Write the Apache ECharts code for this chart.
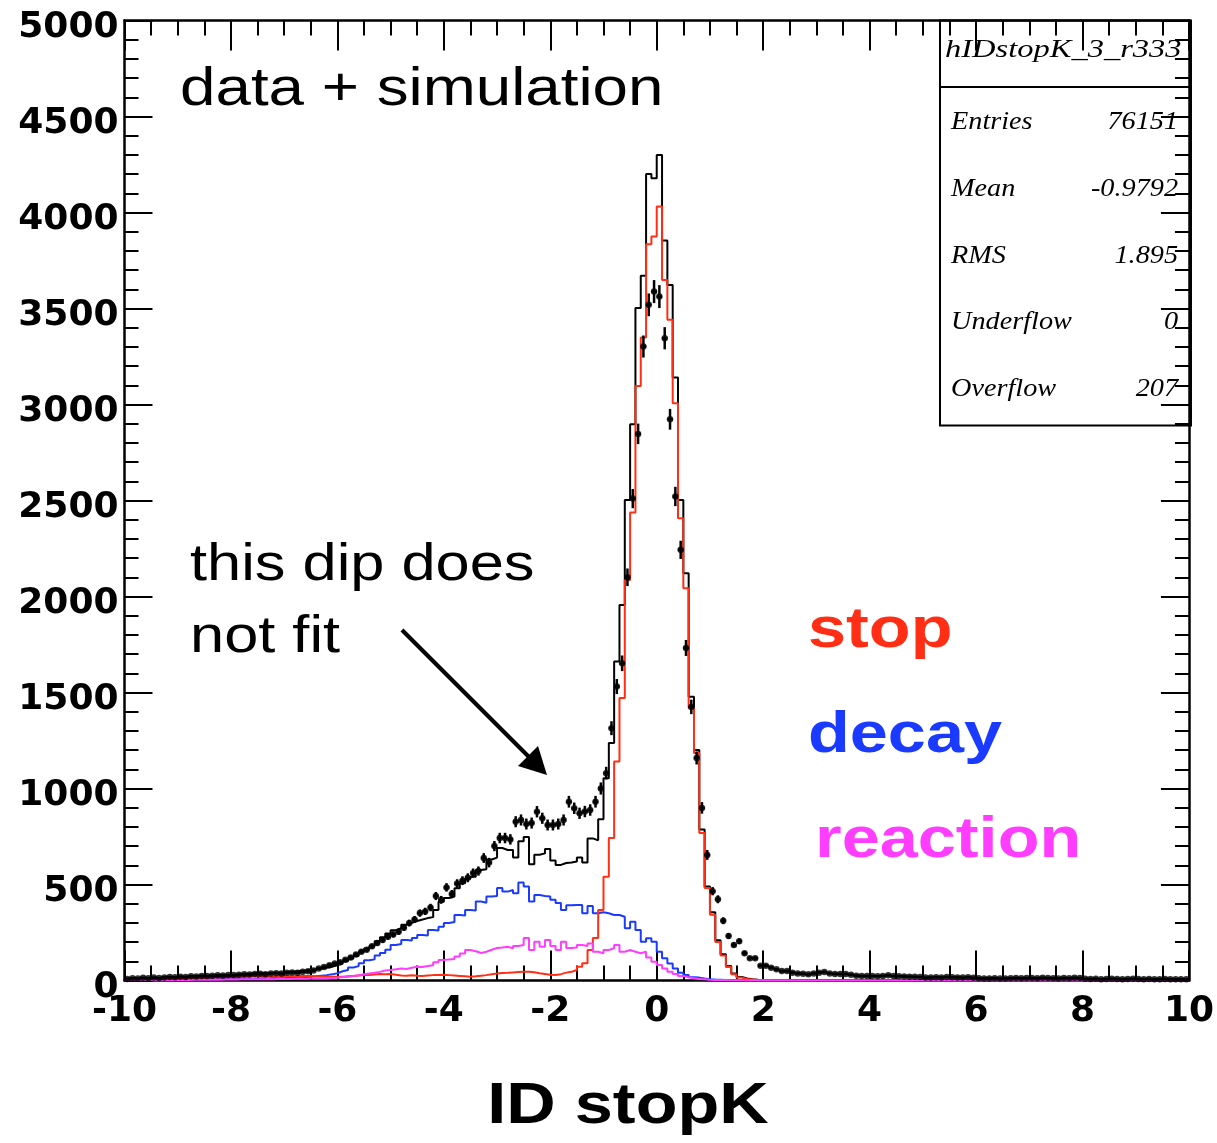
<!DOCTYPE html>
<html><head><meta charset="utf-8">
<script src="https://cdn.jsdelivr.net/npm/echarts@6/dist/echarts.min.js"></script>
<style>html,body{margin:0;padding:0;background:#fff}#c{width:1217px;height:1143px}</style>
</head><body><div id="c"></div>
<script>
// ---- histogram binning (200 bins of 0.1 from -10 to 10) ----
const X_MIN = -10, X_MAX = 10, BIN_W = 0.1;

// ---- MC total (black histogram) ----
const mcTotal = [
 9,10,10,11,12,12,14,15,16,16,
 18,19,20,22,22,24,25,24,28,28,
 30,30,32,36,36,38,38,40,40,42,
 45,46,50,52,56,58,62,66,72,80,
 88,100,115,128,148,165,180,205,225,245,
 262,272,290,300,310,318,325,330,367,410,
 430,437,480,507,530,541,576,580,630,640,
 690,680,680,640,725,748,605,655,662,685,
 625,602,612,615,620,640,615,740,730,840,
 1054,1237,1661,1956,2503,2897,3502,3670,4201,4179,
 4300,3854,3623,3140,2503,2121,1478,1200,786,490,
 355,210,137,75,36,18,10,6,4,3,
 3,2,2,2,1,2,1,1,1,1,
 1,1,1,0,1,1,0,1,0,0,
 0,1,0,0,1,0,0,0,1,0,
 0,0,1,0,0,0,0,1,0,0,
 0,0,0,1,0,0,0,0,0,0,
 1,0,0,0,0,0,1,0,0,0,
 0,0,0,0,1,0,0,0,0,0,
 0,0,0,0,0,1,0,0,0,0
];
// ---- stop (red) ----
const stopMC = [
 3,4,5,5,6,7,8,8,9,10,
 10,12,11,14,13,15,16,15,18,17,
 18,17,20,24,26,22,21,20,22,21,
 24,22,25,24,23,22,21,20,20,19,
 20,22,24,26,28,29,31,34,33,34,
 30,26,25,27,25,24,26,28,29,30,
 28,26,24,22,20,22,25,28,32,36,
 39,40,42,44,45,46,43,38,34,30,
 29,33,41,45,55,72,90,159,221,367,
 541,742,1140,1471,2086,2437,3097,3349,3835,3875,
 4031,3649,3441,3007,2408,2043,1420,1185,768,482,
 343,200,130,70,32,15,8,5,3,2,
 2,1,1,1,1,0,1,0,0,0,
 0,0,0,0,0,0,0,0,0,0,
 0,0,0,0,0,0,0,0,0,0,
 0,0,0,0,0,0,0,0,0,0,
 0,0,0,0,0,0,0,0,0,0,
 0,0,0,0,0,0,0,0,0,0,
 0,0,0,0,0,0,0,0,0,0,
 0,0,0,0,0,0,0,0,0,0
];
// ---- decay (blue) ----
const decayMC = [
 3,4,3,4,5,4,5,5,6,5,
 6,6,7,6,7,8,7,8,9,8,
 9,10,9,11,10,12,11,13,12,14,
 15,16,18,17,20,22,25,28,32,38,
 48,55,68,75,90,105,110,130,143,160,
 185,190,211,208,221,237,235,263,260,280,
 300,305,341,338,367,365,411,405,437,440,
 482,463,471,455,510,489,411,445,440,437,
 420,403,367,392,393,393,350,388,350,355,
 350,341,341,332,272,306,263,202,220,202,
 150,116,89,63,41,29,17,15,10,7,
 5,4,3,2,2,1,1,1,0,0,
 0,0,0,0,0,0,0,0,0,0,
 0,0,0,0,0,0,0,0,0,0,
 0,0,0,0,0,0,0,0,0,0,
 0,0,0,0,0,0,0,0,0,0,
 0,0,0,0,0,0,0,0,0,0,
 0,0,0,0,0,0,0,0,0,0,
 0,0,0,0,0,0,0,0,0,0,
 0,0,0,0,0,0,0,0,0,0
];
// ---- reaction (magenta) ----
const reactionMC = [
 2,3,2,3,3,2,3,4,3,3,
 4,3,4,5,4,4,5,4,5,6,
 5,6,6,7,6,7,8,7,8,9,
 8,9,10,9,11,10,12,11,13,14,
 18,20,24,27,32,36,40,45,52,55,
 58,62,60,66,72,70,76,80,95,107,
 110,112,125,140,159,152,143,150,160,169,
 172,176,168,180,185,221,159,202,176,211,
 180,159,202,169,172,185,180,193,150,142,
 159,168,185,150,159,150,142,150,120,98,
 81,63,46,34,23,17,12,8,6,4,
 3,2,2,1,1,1,0,1,0,0,
 0,0,0,0,0,0,0,0,0,0,
 0,0,0,0,0,0,0,0,0,0,
 0,0,0,0,0,0,0,0,0,0,
 0,0,0,0,0,0,0,0,0,0,
 0,0,0,0,0,0,0,0,0,0,
 0,0,0,0,0,0,0,0,0,0,
 0,0,0,0,0,0,0,0,0,0,
 0,0,0,0,0,0,0,0,0,0
];
// ---- data (black points with error bars) ----
const dataCounts = [
 8,12,10,14,12,15,13,16,18,17,
 20,18,22,21,24,23,25,27,26,28,
 28,30,32,31,34,35,33,37,38,36,
 40,42,41,45,48,52,62,70,80,88,
 95,108,120,135,150,160,178,195,211,228,
 240,254,275,299,318,351,360,380,440,420,
 485,450,505,520,535,560,570,638,614,700,
 742,742,735,827,836,815,820,879,845,810,
 810,815,836,931,897,871,880,888,931,1000,
 1080,1314,1531,1652,2100,2510,2847,3302,3519,3588,
 3562,3345,2923,2521,2243,1732,1425,1159,899,654,
 465,423,311,232,185,205,142,116,116,77,
 77,67,58,49,49,41,37,35,32,37,
 41,44,37,34,34,34,30,25,23,23,
 23,22,24,27,23,22,21,20,19,18,
 15,16,17,16,18,17,16,15,17,14,
 12,11,11,12,10,11,12,13,12,13,
 13,12,14,13,12,11,13,12,14,13,
 9,8,9,7,8,9,8,7,8,9,
 8,7,8,6,7,8,7,6,7,6
];
const xTickLabels = ['-10','-8','-6','-4','-2','0','2','4','6','8','10'];
const yTickLabels = ['0','500','1000','1500','2000','2500','3000','3500','4000','4500','5000'];
const statsTitle = 'hIDstopK_3_r333';
const statsLabels = ['Entries','Mean','RMS','Underflow','Overflow'];
const statsValues = ['76151','-0.9792','1.895','0','207'];

// ---- build series data ----
function stepData(vals) {
  const d = vals.map((v, i) => [+(X_MIN + i * BIN_W).toFixed(2), v]);
  d.push([X_MAX, vals[vals.length - 1]]);
  return d;
}
const pointData = dataCounts.map((v, i) => [+(X_MIN + (i + 0.5) * BIN_W).toFixed(3), v]);

const RED = '#ff2e14', BLUE = '#1a3aff', MAG = '#ff3dff';
const LABEL_FONT = 'DejaVu Sans';
const SX = 1.18;

function histSeries(name, vals, color, z) {
  return { name, type: 'line', step: 'end', data: stepData(vals), symbol: 'none',
    lineStyle: { color, width: 2 }, z, silent: true, animation: false };
}

const axisCommon = {
  axisLine: { show: true, onZero: false, lineStyle: { color: '#000', width: 2.5 } },
  axisTick: { show: true, inside: true, lineStyle: { color: '#000', width: 2 } },
  minorTick: { show: true, lineStyle: { color: '#000', width: 2 } },
  splitLine: { show: false }
};

function txt(text, x, y, size, weight, color, scaleX, family, align) {
  return { type: 'text', x, y, scaleX: scaleX || 1, z: 100,
    style: { text, x: 0, y: 0, fill: color || '#000',
      font: (weight || 'normal') + ' ' + size + 'px "' + (family || 'Liberation Sans') + '"',
      textAlign: align || 'left', textVerticalAlign: 'middle' } };
}

const statsRowY = [122, 189, 256, 322, 389];
const graphics = [
  txt('data + simulation', 180, 90, 54, 'normal', '#000', SX),
  txt('this dip does', 190, 566, 52, 'normal', '#000', SX),
  txt('not fit', 190, 638, 52, 'normal', '#000', SX),
  txt('stop', 808, 631, 58, 'bold', RED, SX),
  txt('decay', 808, 736, 58, 'bold', BLUE, SX),
  txt('reaction', 815, 841, 58, 'bold', MAG, SX),
  txt('ID stopK', 628, 1107, 58, 'bold', '#000', SX, 'Liberation Sans', 'center'),
  // arrow
  { type: 'line', z: 100, shape: { x1: 402, y1: 630, x2: 534, y2: 762 },
    style: { stroke: '#000', lineWidth: 4 } },
  { type: 'polygon', z: 100, shape: { points: [[547, 775], [518, 766], [538, 746]] },
    style: { fill: '#000' } },
  // stats box
  { type: 'rect', z: 100, shape: { x: 940, y: 20.5, width: 251, height: 405 },
    style: { fill: 'none', stroke: '#000', lineWidth: 2 } },
  { type: 'line', z: 100, shape: { x1: 940, y1: 87, x2: 1191, y2: 87 },
    style: { stroke: '#000', lineWidth: 2 } },
  txt(statsTitle, 945, 50, 26, 'italic', '#000', 1.25, 'Liberation Serif')
];
statsLabels.forEach((lab, k) => {
  graphics.push(txt(lab, 951, statsRowY[k], 25, 'italic', '#000', 1.13, 'Liberation Serif'));
  graphics.push(txt(statsValues[k], 1178, statsRowY[k], 25, 'italic', '#000', 1.13, 'Liberation Serif', 'right'));
});

const chart = echarts.init(document.getElementById('c'), null, { renderer: 'canvas' });
chart.setOption({
  animation: false,
  backgroundColor: '#fff',
  grid: { left: 124.5, right: 26, top: 20.5, bottom: 162.5, containLabel: false },
  xAxis: [
    Object.assign({}, axisCommon, { type: 'value', min: X_MIN, max: X_MAX, interval: 2, position: 'bottom',
      axisTick: Object.assign({}, axisCommon.axisTick, { length: 30 }),
      minorTick: Object.assign({}, axisCommon.minorTick, { splitNumber: 4, length: 15 }),
      axisLabel: { show: true, margin: 13, color: '#000', fontFamily: LABEL_FONT, fontWeight: 'bold', fontSize: 36,
        formatter: v => xTickLabels[Math.round((v - X_MIN) / 2)] } }),
    Object.assign({}, axisCommon, { type: 'value', min: X_MIN, max: X_MAX, interval: 2, position: 'top',
      axisTick: Object.assign({}, axisCommon.axisTick, { length: 30 }),
      minorTick: Object.assign({}, axisCommon.minorTick, { splitNumber: 4, length: 15 }),
      axisLabel: { show: false } })
  ],
  yAxis: [
    Object.assign({}, axisCommon, { type: 'value', min: 0, max: 5000, interval: 500, position: 'left',
      axisTick: Object.assign({}, axisCommon.axisTick, { length: 28 }),
      minorTick: Object.assign({}, axisCommon.minorTick, { splitNumber: 5, length: 14 }),
      axisLabel: { show: true, margin: 6, color: '#000', fontFamily: LABEL_FONT, fontWeight: 'bold', fontSize: 36,
        verticalAlign: 'top', lineHeight: 14,
        formatter: v => yTickLabels[Math.round(v / 500)] } }),
    Object.assign({}, axisCommon, { type: 'value', min: 0, max: 5000, interval: 500, position: 'right',
      axisTick: Object.assign({}, axisCommon.axisTick, { length: 28 }),
      minorTick: Object.assign({}, axisCommon.minorTick, { splitNumber: 5, length: 14 }),
      axisLabel: { show: false } })
  ],
  series: [
    histSeries('MC total', mcTotal, '#000', 2),
    histSeries('decay', decayMC, BLUE, 3),
    histSeries('stop', stopMC, RED, 4),
    histSeries('reaction', reactionMC, MAG, 5),
    { name: 'data errors', type: 'custom', data: pointData, encode: { x: 0, y: 1 }, z: 6, silent: true,
      renderItem: (params, api) => {
        const x = api.value(0), y = api.value(1);
        const e = Math.sqrt(y);
        const lo = api.coord([x, Math.max(0, y - e)]);
        const hi = api.coord([x, y + e]);
        const l = api.coord([x - BIN_W / 2, y]);
        const r = api.coord([x + BIN_W / 2, y]);
        return { type: 'group', children: [
          { type: 'line', shape: { x1: lo[0], y1: lo[1], x2: hi[0], y2: hi[1] }, style: { stroke: '#000', lineWidth: 2.5 } },
          { type: 'line', shape: { x1: l[0], y1: l[1], x2: r[0], y2: r[1] }, style: { stroke: '#000', lineWidth: 2.5 } }
        ] };
      } },
    { name: 'data', type: 'scatter', data: pointData, symbol: 'circle', symbolSize: 6.5,
      itemStyle: { color: '#000' }, z: 7, silent: true }
  ],
  graphic: graphics
});
</script>
</body></html>
